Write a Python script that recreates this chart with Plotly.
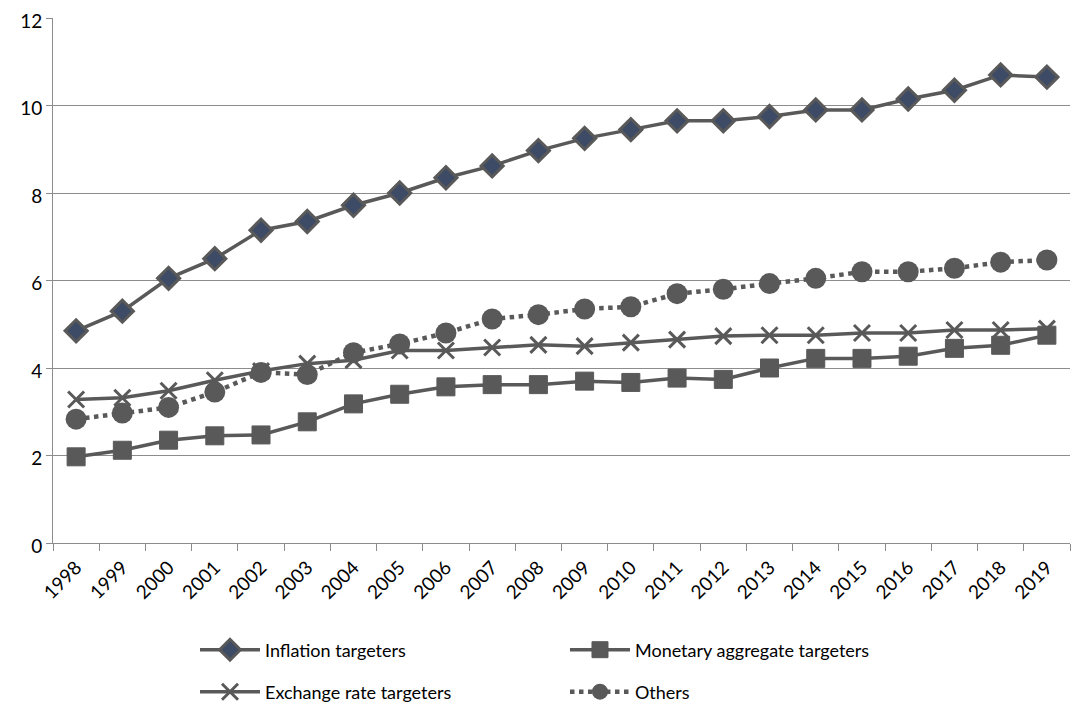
import plotly.graph_objects as go

years = [str(y) for y in range(1998, 2020)]
inflation = [4.85, 5.3, 6.05, 6.5, 7.15, 7.35, 7.72, 8.0, 8.35, 8.62, 8.97, 9.25, 9.45, 9.65, 9.65, 9.75, 9.9, 9.9, 10.15, 10.35, 10.7, 10.65]
monetary = [1.97, 2.12, 2.35, 2.45, 2.47, 2.77, 3.18, 3.4, 3.57, 3.62, 3.62, 3.7, 3.67, 3.77, 3.74, 4.0, 4.22, 4.22, 4.27, 4.45, 4.52, 4.75]
exchange = [3.28, 3.32, 3.48, 3.72, 3.93, 4.1, 4.18, 4.4, 4.4, 4.47, 4.53, 4.5, 4.58, 4.65, 4.73, 4.75, 4.75, 4.8, 4.8, 4.87, 4.87, 4.9]
others = [2.83, 2.97, 3.1, 3.45, 3.9, 3.85, 4.35, 4.55, 4.8, 5.12, 5.22, 5.35, 5.4, 5.7, 5.8, 5.93, 6.05, 6.2, 6.2, 6.28, 6.42, 6.47]

LINE = "#595959"
FONT = "Lato"

fig = go.Figure()
fig.add_trace(go.Scatter(x=years, y=inflation, name="Inflation targeters", mode="lines+markers",
                         line=dict(color=LINE, width=3.5),
                         marker=dict(symbol="diamond", size=17, color="#3d4b66", line=dict(color=LINE, width=3)),
                         legend="legend"))
fig.add_trace(go.Scatter(x=years, y=monetary, name="Monetary aggregate targeters", mode="lines+markers",
                         line=dict(color=LINE, width=3.5),
                         marker=dict(symbol="square", size=18, color=LINE, line=dict(color=LINE, width=1)),
                         legend="legend"))
fig.add_trace(go.Scatter(x=years, y=exchange, name="Exchange rate targeters", mode="lines+markers",
                         line=dict(color=LINE, width=3.5),
                         marker=dict(symbol="x-thin", size=16, color=LINE, line=dict(color=LINE, width=3)),
                         legend="legend2"))
fig.add_trace(go.Scatter(x=years, y=others, name="Others", mode="lines+markers",
                         line=dict(color=LINE, width=4.5, dash="dot"),
                         marker=dict(symbol="circle", size=21, color=LINE),
                         legend="legend2"))

legend_common = dict(orientation="h", xanchor="left", yanchor="middle",
                     xref="container", yref="container",
                     font=dict(family=FONT, size=18, color="#000000"),
                     entrywidth=295, entrywidthmode="pixels", itemwidth=60,
                     bgcolor="rgba(0,0,0,0)")

fig.update_layout(
    width=1084, height=707,
    margin=dict(l=45, r=22, t=10, b=172, autoexpand=False),
    paper_bgcolor="white", plot_bgcolor="white",
    font=dict(family=FONT, size=18, color="#000000"),
    showlegend=True,
    legend=dict(x=0.1725, y=1 - 642 / 707, **legend_common),
    legend2=dict(x=0.1725, y=1 - 684 / 707, **legend_common),
    xaxis=dict(type="category", range=[-0.5, 21.5], tickangle=-45,
               showgrid=False, showline=True, linecolor="#8c8c8c", linewidth=1,
               ticks="outside", tickson="boundaries", ticklen=7, tickcolor="#8c8c8c",
               ticklabeloverflow="allow", ticklabelstandoff=5,
               tickfont=dict(family=FONT, size=19, color="#000000")),
    yaxis=dict(range=[0, 12.001], tickvals=[0, 2, 4, 6, 8, 10, 12], showgrid=True, gridcolor="#8c8c8c", gridwidth=1,
               showline=True, linecolor="#8c8c8c", linewidth=1,
               ticks="outside", ticklen=6, tickcolor="#8c8c8c", zeroline=False,
               ticklabeloverflow="allow", ticklabelshift=3,
               tickfont=dict(family=FONT, size=19, color="#000000")),
)

fig.write_html("out.html")
